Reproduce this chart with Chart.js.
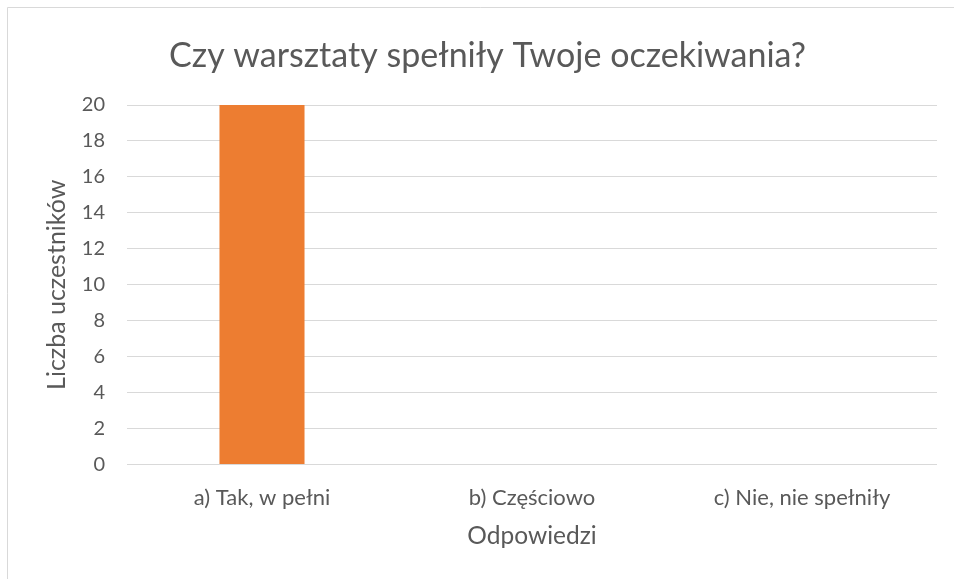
<!DOCTYPE html>
<html>
<head>
<meta charset="utf-8">
<script src="https://cdn.jsdelivr.net/npm/chart.js@4"></script>
<style>
  html, body { margin: 0; padding: 0; background: #fff; }
  #wrap { width: 954px; height: 579px; position: relative; }
</style>
</head>
<body>
<div id="wrap"><canvas id="chart" width="954" height="579"></canvas></div>
<script>
// chart data
var categories = ['a) Tak, w pełni', 'b) Częściowo', 'c) Nie, nie spełniły'];
var values = [20, 0, 0];
var yTicks = [0, 2, 4, 6, 8, 10, 12, 14, 16, 18, 20];

var textColor = '#595959';
var fontFamily = 'Lato, "Open Sans", sans-serif';

// light frame on the top and left edges, like the cropped Excel chart box
var frame = {
  id: 'frame',
  beforeDraw: function(chart) {
    var ctx = chart.ctx;
    ctx.save();
    ctx.fillStyle = '#fff';
    ctx.fillRect(0, 0, chart.width, chart.height);
    ctx.strokeStyle = '#d9d9d9';
    ctx.lineWidth = 1;
    ctx.beginPath();
    ctx.moveTo(7.5, chart.height);
    ctx.lineTo(7.5, 7.5);
    ctx.lineTo(chart.width, 7.5);
    ctx.stroke();
    ctx.restore();
  }
};

var ctx = document.getElementById('chart').getContext('2d');
new Chart(ctx, {
  type: 'bar',
  data: {
    labels: categories,
    datasets: [{
      label: 'Liczba uczestników',
      data: values,
      backgroundColor: '#ED7D31',
      categoryPercentage: 0.315,
      barPercentage: 1
    }]
  },
  plugins: [frame],
  options: {
    responsive: false,
    animation: false,
    layout: { padding: { left: 38, right: 17, top: 0, bottom: 0 } },
    plugins: {
      legend: { display: false },
      tooltip: { enabled: false },
      title: {
        display: true,
        text: 'Czy warsztaty spełniły Twoje oczekiwania?',
        color: textColor,
        font: { family: fontFamily, size: 34, weight: 'normal' },
        padding: { top: 36, bottom: 28.2 }
      }
    },
    scales: {
      x: {
        grid: { display: false, drawTicks: false },
        border: { display: false },
        ticks: { color: textColor, font: { family: fontFamily, size: 22 }, padding: 20, maxRotation: 0 },
        title: {
          display: true,
          text: 'Odpowiedzi',
          color: textColor,
          font: { family: fontFamily, size: 24.5 },
          padding: { top: 0, bottom: 28 }
        },
        afterFit: function(scale) { scale.height = 114.5; }
      },
      y: {
        min: 0,
        max: 20,
        afterBuildTicks: function(scale) {
          scale.ticks = yTicks.map(function(v) { return { value: v }; });
        },
        grid: { color: '#d9d9d9', lineWidth: 1, drawTicks: false },
        border: { display: false },
        ticks: { color: textColor, font: { family: fontFamily, size: 20 }, padding: 22 },
        title: {
          display: true,
          text: 'Liczba uczestników',
          color: textColor,
          font: { family: fontFamily, size: 25 },
          padding: { top: 4, bottom: 0 }
        },
        afterFit: function(scale) { scale.width = 89; }
      }
    }
  }
});
</script>
</body>
</html>
